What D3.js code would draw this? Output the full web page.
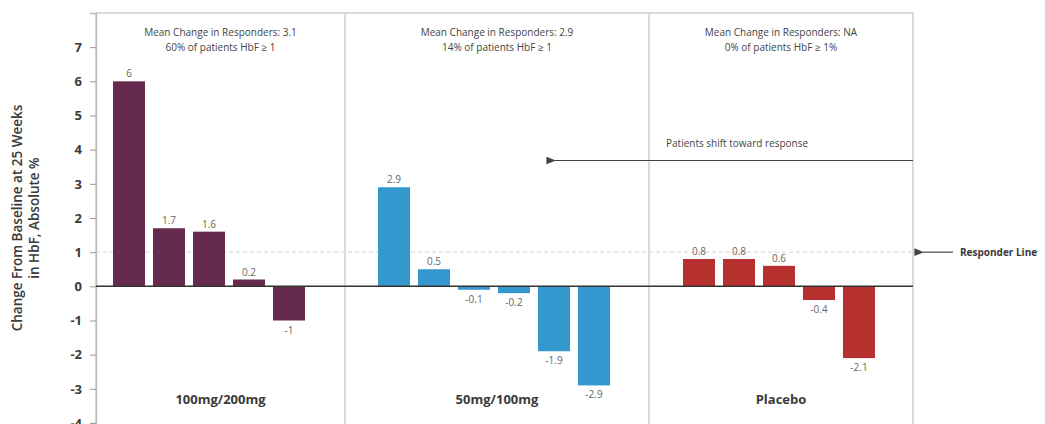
<!DOCTYPE html>
<meta charset="utf-8">
<style>
    body { margin: 0; background: #fff; }
    text { font-family: "Open Sans", sans-serif; }
</style>
<body>
<script src="https://d3js.org/d3.v7.min.js"></script>
<script>

    // data
    var groups = ["100mg/200mg", "50mg/100mg", "Placebo"];
    var highDose = [6, 1.7, 1.6, 0.2, -1];
    var lowDose = [2.9, 0.5, -0.1, -0.2, -1.9, -2.9];
    var placebo = [0.8, 0.8, 0.6, -0.4, -2.1];
    var headerLine1 = ["Mean Change in Responders: 3.1", "Mean Change in Responders: 2.9", "Mean Change in Responders: NA"];
    var headerLine2 = ["60% of patients HbF \u2265 1", "14% of patients HbF \u2265 1", "0% of patients HbF \u2265 1%"];
    var colors = ["#672a4f", "#3498cf", "#b73030"];
    var yTicks = [-4, -3, -2, -1, 0, 1, 2, 3, 4, 5, 6, 7];
    var responderValue = 1;

    var width = 1045, height = 424;
    var plotLeft = 96, plotRight = 913, plotTop = 13, plotBottom = 423;
    // panel edges and where the bars start in each panel
    var panelEdges = [96, 345, 649, 913];
    var barStarts = [109, 374, 679];
    var step = 40;

    var series = [highDose, lowDose, placebo];

    var svg = d3.select("body").append("svg")
        .attr("width", width)
        .attr("height", height);

    var y = d3.scaleLinear().domain([-4, 8]).range([plotBottom, plotTop]);

    // frame and dividers
    svg.append("rect")
        .attr("x", plotLeft).attr("y", plotTop)
        .attr("width", plotRight - plotLeft).attr("height", plotBottom - plotTop + 4)
        .attr("fill", "none").attr("stroke", "#cfcfcf").attr("stroke-width", 1.5);

    svg.selectAll(".divider")
        .data(panelEdges.slice(1, 3))
        .enter().append("line")
        .attr("x1", function(d) { return d; }).attr("x2", function(d) { return d; })
        .attr("y1", plotTop).attr("y2", plotBottom + 4)
        .attr("stroke", "#cfcfcf").attr("stroke-width", 1.5);

    // y axis
    var yAxis = svg.append("g")
        .attr("transform", "translate(" + plotLeft + ",0)")
        .call(d3.axisLeft(y).tickValues(yTicks).tickSize(6).tickFormat(function(d) { return String(d); }));
    yAxis.select(".domain").attr("stroke", "#bdbdbd").attr("stroke-width", 1.5);
    yAxis.selectAll(".tick line").attr("stroke", "#9a9a9a");
    yAxis.selectAll(".tick text")
        .attr("x", -14)
        .style("font-size", "13px").style("font-weight", "bold").attr("fill", "#3a3a3a");

    svg.append("text")
        .attr("transform", "translate(22," + y(2) + ") rotate(-90)")
        .attr("text-anchor", "middle")
        .style("font-size", "13.5px").style("font-weight", "600").attr("fill", "#3a3a3a")
        .text("Change From Baseline at 25 Weeks");
    svg.append("text")
        .attr("transform", "translate(39," + y(2) + ") rotate(-90)")
        .attr("text-anchor", "middle")
        .style("font-size", "13.5px").style("font-weight", "600").attr("fill", "#3a3a3a")
        .text("in HbF, Absolute %");

    // responder line
    svg.append("line")
        .attr("x1", plotLeft).attr("x2", plotRight)
        .attr("y1", y(responderValue)).attr("y2", y(responderValue))
        .attr("stroke", "#d4d4d4").attr("stroke-dasharray", "4,3");

    // bars per panel
    series.forEach(function(vals, p) {
        var x = d3.scaleBand()
            .domain(d3.range(vals.length))
            .range([barStarts[p], barStarts[p] + vals.length * step])
            .paddingInner(0.2).paddingOuter(0.1);

        var g = svg.append("g");
        g.selectAll("rect")
            .data(vals)
            .enter().append("rect")
            .attr("x", function(d, i) { return x(i); })
            .attr("width", x.bandwidth())
            .attr("y", function(d) { return y(Math.max(0, d)); })
            .attr("height", function(d) { return Math.abs(y(d) - y(0)); })
            .attr("fill", colors[p]);

        g.selectAll(".val")
            .data(vals)
            .enter().append("text")
            .attr("x", function(d, i) { return x(i) + x.bandwidth() / 2; })
            .attr("y", function(d) { return d >= 0 ? y(d) - 4 : y(d) + 13; })
            .attr("text-anchor", "middle")
            .style("font-size", "10px").attr("fill", "#666")
            .text(function(d) { return d; });

        var cx = (panelEdges[p] + panelEdges[p + 1]) / 2;
        svg.append("text")
            .attr("x", cx).attr("y", 36)
            .attr("text-anchor", "middle")
            .style("font-size", "10px").attr("fill", "#444")
            .text(headerLine1[p]);
        svg.append("text")
            .attr("x", cx).attr("y", 51)
            .attr("text-anchor", "middle")
            .style("font-size", "10px").attr("fill", "#444")
            .text(headerLine2[p]);
        svg.append("text")
            .attr("x", cx).attr("y", 404)
            .attr("text-anchor", "middle")
            .style("font-size", "13px").style("font-weight", "bold").attr("fill", "#3a3a3a")
            .text(groups[p]);
    });

    // zero line
    svg.append("line")
        .attr("x1", plotLeft).attr("x2", plotRight)
        .attr("y1", y(0)).attr("y2", y(0))
        .attr("stroke", "#333").attr("stroke-width", 1.5);

    // arrow marker
    svg.append("defs").append("marker")
        .attr("id", "arrow")
        .attr("viewBox", "0 0 10 10")
        .attr("refX", 1).attr("refY", 5)
        .attr("markerWidth", 8).attr("markerHeight", 8)
        .attr("orient", "auto-start-reverse")
        .append("path")
        .attr("d", "M0,5 L10,1 L10,9 Z")
        .attr("fill", "#444");

    var shiftY = 160.5;
    svg.append("line")
        .attr("x1", 555).attr("x2", plotRight)
        .attr("y1", shiftY).attr("y2", shiftY)
        .attr("stroke", "#444").attr("stroke-width", 1.2)
        .attr("marker-start", "url(#arrow)");
    svg.append("text")
        .attr("x", 666).attr("y", 147)
        .style("font-size", "10px").attr("fill", "#444")
        .text("Patients shift toward response");

    svg.append("line")
        .attr("x1", 923).attr("x2", 953)
        .attr("y1", y(responderValue)).attr("y2", y(responderValue))
        .attr("stroke", "#444").attr("stroke-width", 1.2)
        .attr("marker-start", "url(#arrow)");
    svg.append("text")
        .attr("x", 960).attr("y", y(responderValue) + 4)
        .style("font-size", "10px").style("font-weight", "bold").attr("fill", "#3a3a3a")
        .text("Responder Line");

</script>
</body>
